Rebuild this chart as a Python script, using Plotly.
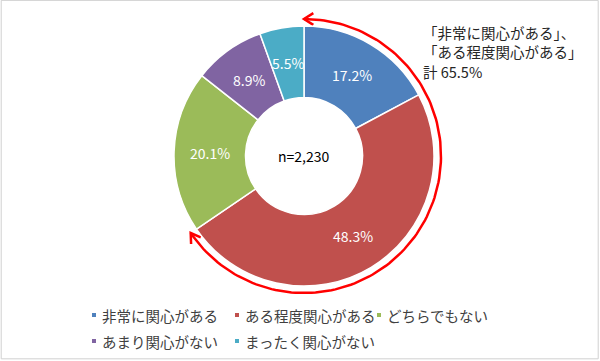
import math
import plotly.graph_objects as go

# ---- data ----
categories = ["非常に関心がある", "ある程度関心がある", "どちらでもない", "あまり関心がない", "まったく関心がない"]
shares = [17.2, 48.3, 20.1, 8.9, 5.5]
colors = ["#4F81BD", "#C0504D", "#9BBB59", "#8064A2", "#4BACC6"]
sample_label = "n=2,230"
callout_lines = ["「非常に関心がある」、", "「ある程度関心がある」", "計 65.5%"]

W, H = 600, 361
FONT = "Noto Sans CJK JP"

# geometry (pixels)
cx, cy, R = 304, 156, 130
hole = 0.45
label_r = 94
arc_r = 137

fig = go.Figure()

fig.add_trace(go.Pie(
    labels=categories, values=shares, sort=False, direction="clockwise", rotation=0,
    hole=hole,
    marker=dict(colors=colors, line=dict(color="white", width=1.5)),
    textinfo="none",
    domain=dict(x=[(cx - R) / W, (cx + R) / W], y=[(H - cy - R) / H, (H - cy + R) / H]),
    showlegend=False, hoverinfo="label+percent",
))

annotations = []
shapes = []

# slice labels at mid-angle of each slice
total = sum(shares)
cum = 0.0
for v in shares:
    mid = (cum + v / 2) / total * 2 * math.pi
    cum += v
    annotations.append(dict(
        x=cx + label_r * math.sin(mid), y=cy - label_r * math.cos(mid), xref="x", yref="y",
        text=f"{v:.1f}%", showarrow=False, font=dict(family=FONT, size=14, color="white")))

# arc spanning first two categories
frac = (shares[0] + shares[1]) / total
end = frac * 2 * math.pi
n = 140
xs, ys = [], []
for i in range(n + 1):
    t = end * i / n
    xs.append(cx + arc_r * math.sin(t))
    ys.append(cy - arc_r * math.cos(t))
fig.add_trace(go.Scatter(x=xs, y=ys, mode="lines", line=dict(color="#FF0000", width=2.5),
                         showlegend=False, hoverinfo="skip"))


def arrowhead(theta, sign):
    tx = cx + arc_r * math.sin(theta)
    ty = cy - arc_r * math.cos(theta)
    dx, dy = sign * math.cos(theta), sign * math.sin(theta)
    L, a = 11, math.radians(32)
    pts = []
    for s in (1, -1):
        ca, sa = math.cos(s * a), math.sin(s * a)
        bx, by = -dx, -dy
        pts.append((tx + L * (bx * ca - by * sa), ty + L * (bx * sa + by * ca)))
    return [pts[0][0], tx, pts[1][0]], [pts[0][1], ty, pts[1][1]]


for th, sg in ((0.0, -1), (end, 1)):
    ax_, ay_ = arrowhead(th, sg)
    fig.add_trace(go.Scatter(x=ax_, y=ay_, mode="lines", line=dict(color="#FF0000", width=2.5),
                             showlegend=False, hoverinfo="skip"))

# center label
annotations.append(dict(x=cx, y=cy, xref="x", yref="y", text=sample_label, showarrow=False,
                        font=dict(family=FONT, size=14, color="#000000")))

# callout
for txt, yy in zip(callout_lines, [32, 51, 71]):
    annotations.append(dict(x=421, y=yy, xref="x", yref="y", text=txt, showarrow=False,
                            xanchor="left", yanchor="middle",
                            font=dict(family=FONT, size=14.5, color="#262626")))

# legend (two rows, three columns)
col_x = [94, 237, 379]
row_y = [315, 341]
for i, (c, col) in enumerate(zip(categories, colors)):
    mx, my = col_x[i % 3], row_y[i // 3]
    shapes.append(dict(type="rect", xref="x", yref="y", x0=mx - 2, x1=mx + 2, y0=my - 2, y1=my + 2,
                       fillcolor=col, line=dict(width=0)))
    annotations.append(dict(x=mx + 6, y=my, xref="x", yref="y", text=c, showarrow=False,
                            xanchor="left", yanchor="middle",
                            font=dict(family=FONT, size=14.5, color="#404040")))

# frame
shapes.append(dict(type="rect", xref="paper", yref="paper", x0=0.002, x1=0.997, y0=0.006, y1=0.999,
                   line=dict(color="#D0D0D0", width=1)))

fig.update_layout(
    width=W, height=H, margin=dict(l=0, r=0, t=0, b=0, autoexpand=False),
    paper_bgcolor="white", plot_bgcolor="rgba(0,0,0,0)",
    font=dict(family=FONT, size=14, color="#404040"),
    xaxis=dict(range=[0, W], visible=False, domain=[0, 1], fixedrange=True),
    yaxis=dict(range=[H, 0], visible=False, domain=[0, 1], fixedrange=True),
    showlegend=False,
    annotations=annotations,
    shapes=shapes,
)

fig.write_html("out.html", config={"displayModeBar": False},
               post_script="document.body.style.margin='0';document.body.style.overflow='hidden';")
